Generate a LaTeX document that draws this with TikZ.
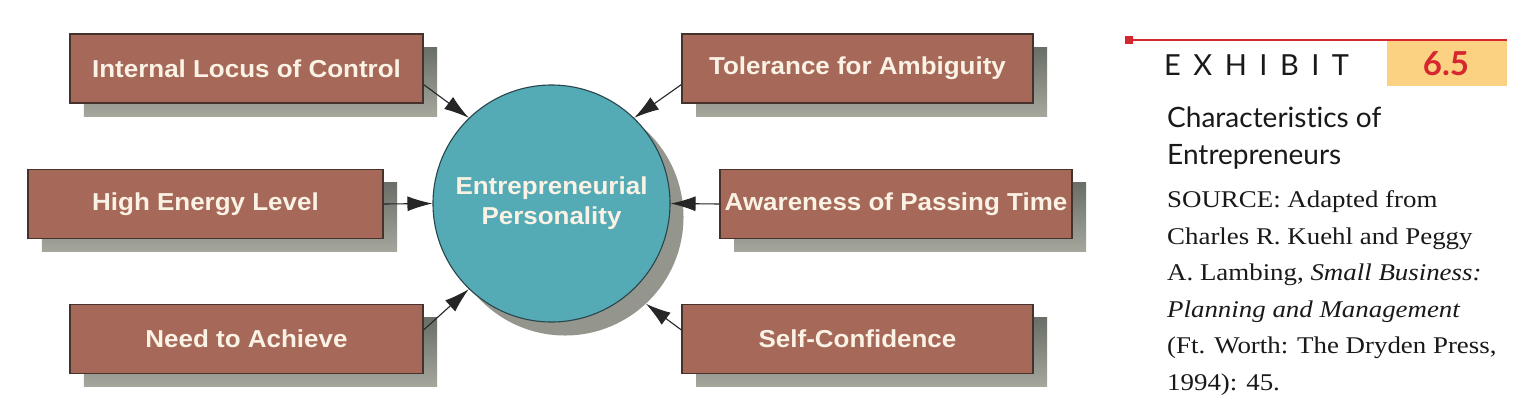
\documentclass[tikz,border=0pt]{standalone}
\usepackage{fontspec}
\setmainfont{Liberation Serif}
\newfontfamily\boxfont[FakeStretch=1.06]{Liberation Sans}
\newfontfamily\srcfont[FakeStretch=1.12]{Liberation Serif}
\newfontfamily\hfont[Ligatures=NoCommon]{Lato}
\usetikzlibrary{arrows.meta,calc}
\definecolor{boxfill}{RGB}{166,104,88}
\definecolor{boxline}{RGB}{70,50,45}
\definecolor{txtcream}{RGB}{250,242,228}
\definecolor{teal}{RGB}{84,170,181}
\definecolor{tealline}{RGB}{40,70,75}
\definecolor{shadowdark}{RGB}{105,110,102}
\definecolor{shadowlight}{RGB}{165,167,157}
\definecolor{exred}{RGB}{214,38,48}
\definecolor{exyellow}{RGB}{250,210,130}
\tikzset{
  trait/.style={draw=boxline, line width=1.1bp, fill=boxfill, minimum width=353bp, minimum height=69bp, inner sep=0pt,
    font=\boxfont\bfseries\fontsize{24.5bp}{28bp}\selectfont, text=txtcream},
  traitshadow/.style={top color=shadowdark, bottom color=shadowlight, draw=none, minimum width=353bp, minimum height=69bp, inner sep=0pt},
  arr/.style={draw=black!85, line width=1.1bp, -{Latex[length=25bp,width=15bp]}},
  src/.style={anchor=base west, inner sep=0pt, font=\srcfont\fontsize{24bp}{28bp}\selectfont, text=black!90},
}
\begin{document}
\begin{tikzpicture}[x=1bp,y=-1bp]
\useasboundingbox (0,0) rectangle (1522,406);
\fill[white] (0,0) rectangle (1522,406);
% shadows
\foreach \x/\y/\w in {246.5/68.5/353, 857.5/68.5/351, 205.5/204/355, 896/204/352, 246.5/339/353, 857.5/339/351}{
  \node[traitshadow, minimum width=\w bp] at (\x+14,\y+13) {};
}
\node[circle, fill=shadowlight!90!black, minimum size=237bp, inner sep=0pt] (cs) at (565,217) {};
% circle
\node[circle, draw=tealline, line width=1.1bp, fill=teal, minimum size=237bp, inner sep=0pt, align=center,
  font=\boxfont\bfseries\fontsize{24.5bp}{32bp}\selectfont, text=txtcream] (c) at (551.5,203.5) {Entrepreneurial\\[-2bp]Personality};
% boxes
\node[trait] (b1) at (246.5,68.5) {Internal Locus of Control};
\node[trait, minimum width=351bp] (b2) at (857.5,68.5) {Tolerance for Ambiguity};
\node[trait, minimum width=355bp] (b3) at (205.5,204) {High Energy Level};
\node[trait, minimum width=352bp] (b4) at (896,204) {Awareness of Passing Time};
\node[trait] (b5) at (246.5,339) {Need to Achieve};
\node[trait, minimum width=351bp] (b6) at (857.5,339) {Self-Confidence};
% arrows
\draw[arr] ([yshift=-16bp]b1.east) -- (c.134);
\draw[arr] ([yshift=-16bp]b2.west) -- (c.46);
\draw[arr] (b3.east) -- (c.180);
\draw[arr] (b4.west) -- (c.0);
\draw[arr] ([yshift=9bp]b5.east) -- (c.226);
\draw[arr] ([yshift=9bp]b6.west) -- (cs.-47);
% exhibit header
\node[fill=exyellow, minimum width=120bp, minimum height=46bp, inner sep=0pt, anchor=north west] (yb) at (1387,40) {};
\node[inner sep=0pt, anchor=base, font=\hfont\bfseries\fontsize{33bp}{36bp}\selectfont, text=exred] (num) at (1446,75) {6.5};
\coordinate (rl) at (1507,40);
\node[fill=exred, minimum size=8bp, inner sep=0pt] (rs) at (1129,40) {};
\draw[exred, line width=2bp] (rs.center) -- (rl);
\node[inner sep=0pt, anchor=base west, font=\hfont\fontsize{29bp}{32bp}\selectfont, text=black!90] (ex) at (1164,75)
  {E\kern12.5bp X\kern12.5bp H\kern12.5bp I\kern12.5bp B\kern12.5bp I\kern12.5bp T};
\node[inner sep=0pt, anchor=base west, font=\hfont\fontsize{28bp}{30bp}\selectfont, text=black!90] (t1) at (1167,127) {Characteristics of};
\node[inner sep=0pt, anchor=base west, font=\hfont\fontsize{28bp}{30bp}\selectfont, text=black!90] (t2) at (1167,164) {Entrepreneurs};
% source
\node[src] (s1) at (1167,207) {SOURCE: Adapted from};
\node[src] (s2) at (1167,244) {Charles R. Kuehl and Peggy};
\node[src] (s3) at (1167,280.5) {A. Lambing, \textit{Small Business:}};
\node[src] (s4) at (1167,317) {\textit{Planning and Management}};
\node[src] (s5) at (1167,353.5) {(Ft. Worth: The Dryden Press,};
\node[src] (s6) at (1167,390) {1994): 45.};
\end{tikzpicture}
\end{document}
